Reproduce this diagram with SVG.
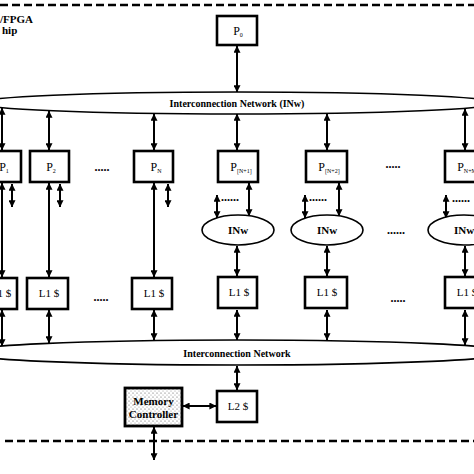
<svg xmlns="http://www.w3.org/2000/svg" width="474" height="474" viewBox="0 0 474 474">
<defs>
<marker id="ah" viewBox="0 0 10 10" refX="9.5" refY="5" markerWidth="7" markerHeight="7" markerUnits="userSpaceOnUse" orient="auto-start-reverse"><path d="M0,0 L10,5 L0,10 z" fill="#000"/></marker>
<pattern id="stip" width="4" height="4" patternUnits="userSpaceOnUse"><rect width="4" height="4" fill="#fff"/><circle cx="1" cy="1" r="0.6" fill="#555"/><circle cx="3" cy="3" r="0.5" fill="#888"/></pattern>
</defs>
<style>
.box{fill:#fff;stroke:#000;stroke-width:2.6}
.ell{fill:#fff;stroke:#000;stroke-width:1.6}
.arr{stroke:#000;stroke-width:2;fill:none;marker-start:url(#ah);marker-end:url(#ah)}
.dash{stroke:#000;stroke-width:2.4;stroke-dasharray:8 4;fill:none}
.t{font-family:"Liberation Serif","Times New Roman",serif;fill:#000}
.b{font-weight:bold}
.p{font-size:12px;text-anchor:middle}
.sub{font-size:6px}
.l{font-size:11px;text-anchor:middle}
.dots{font-family:"Liberation Serif",serif;font-size:12px;font-weight:bold;fill:#000;text-anchor:middle}
</style>
<rect width="474" height="474" fill="#fff"/>
<line class="dash" x1="0" y1="5" x2="474" y2="5"/>
<line class="dash" x1="5" y1="441" x2="474" y2="441"/>
<text class="t b" x="0" y="23" font-size="11">/FPGA</text>
<text class="t b" x="2" y="34" font-size="11">hip</text>

<g id="connectors">
<line class="arr" x1="237" y1="46" x2="237" y2="92"/>
<line class="arr" x1="2" y1="108" x2="2" y2="150"/>
<line class="arr" x1="49" y1="111" x2="49" y2="150"/>
<line class="arr" x1="154" y1="114" x2="154" y2="150"/>
<line class="arr" x1="237" y1="114" x2="237" y2="150"/>
<line class="arr" x1="327" y1="114" x2="327" y2="150"/>
<line class="arr" x1="465" y1="109" x2="465" y2="150"/>
<line class="arr" x1="2" y1="183" x2="2" y2="277"/>
<line class="arr" x1="12" y1="184" x2="12" y2="207"/>
<line class="arr" x1="49" y1="183" x2="49" y2="277"/>
<line class="arr" x1="60" y1="184" x2="60" y2="207"/>
<line class="arr" x1="154" y1="183" x2="154" y2="277"/>
<line class="arr" x1="168" y1="184" x2="168" y2="207"/>
<line class="arr" x1="217" y1="195" x2="217" y2="218"/>
<line class="arr" x1="249" y1="183" x2="249" y2="216"/>
<line class="arr" x1="305" y1="195" x2="305" y2="218"/>
<line class="arr" x1="339" y1="183" x2="339" y2="216"/>
<line class="arr" x1="446" y1="195" x2="446" y2="218"/>
<line class="arr" x1="237" y1="246" x2="237" y2="276"/>
<line class="arr" x1="327" y1="246" x2="327" y2="276"/>
<line class="arr" x1="465" y1="246" x2="465" y2="276"/>
<line class="arr" x1="2" y1="310" x2="2" y2="346"/>
<line class="arr" x1="49" y1="310" x2="49" y2="343"/>
<line class="arr" x1="154" y1="310" x2="154" y2="340"/>
<line class="arr" x1="237" y1="310" x2="237" y2="340"/>
<line class="arr" x1="327" y1="310" x2="327" y2="340"/>
<line class="arr" x1="465" y1="310" x2="465" y2="345"/>
<line class="arr" x1="237" y1="366" x2="237" y2="390"/>
<line class="arr" x1="183" y1="406" x2="216" y2="406"/>
<line class="arr" x1="154" y1="427" x2="154" y2="460"/>
</g>

<g id="P0"><rect class="box" x="217" y="16" width="40" height="29"/><text class="t p" x="238" y="35">P<tspan class="sub" dy="2">0</tspan></text></g>

<g id="INw-top"><ellipse class="ell" cx="237" cy="103" rx="260" ry="11"/><text class="t b" x="237" y="107" font-size="10" text-anchor="middle">Interconnection Network (INw)</text></g>

<g id="P1"><rect class="box" x="-18" y="151" width="39" height="31"/><text class="t p" x="4" y="171">P<tspan class="sub" dy="2">1</tspan></text></g>
<g id="P2"><rect class="box" x="30" y="151" width="39" height="31"/><text class="t p" x="51" y="171">P<tspan class="sub" dy="2">2</tspan></text></g>
<g id="PN"><rect class="box" x="134" y="151" width="39" height="31"/><text class="t p" x="156" y="171">P<tspan class="sub" dy="2">N</tspan></text></g>
<g id="PN1"><rect class="box" x="218" y="151" width="40" height="31"/><text class="t p" x="241" y="171">P<tspan class="sub" dy="2">[N+1]</tspan></text></g>
<g id="PN2"><rect class="box" x="306" y="151" width="41" height="31"/><text class="t p" x="329" y="171">P<tspan class="sub" dy="2">[N+2]</tspan></text></g>
<g id="PNM"><rect class="box" x="445" y="151" width="42" height="31"/><text class="t p" x="467" y="171">P<tspan class="sub" dy="2">N+M</tspan></text></g>

<text class="dots" x="102" y="171">.....</text>
<text class="dots" x="393" y="168">.....</text>
<text class="dots" x="230" y="201">......</text>
<text class="dots" x="318" y="201">......</text>
<text class="dots" x="461" y="202">......</text>
<text class="dots" x="396" y="234">......</text>
<text class="dots" x="101" y="301">.....</text>
<text class="dots" x="398" y="302">.....</text>

<g id="INw1"><ellipse class="ell" cx="238" cy="230" rx="36" ry="15"/><text class="t b" x="238" y="234" font-size="11" text-anchor="middle">INw</text></g>
<g id="INw2"><ellipse class="ell" cx="327" cy="230" rx="36" ry="15"/><text class="t b" x="327" y="234" font-size="11" text-anchor="middle">INw</text></g>
<g id="INw3"><ellipse class="ell" cx="464" cy="230" rx="36" ry="15"/><text class="t b" x="464" y="234" font-size="11" text-anchor="middle">INw</text></g>

<g id="L1a"><rect class="box" x="-20" y="278" width="37" height="31"/><text class="t l" x="1" y="297">L1 $</text></g>
<g id="L1b"><rect class="box" x="27" y="278" width="41" height="31"/><text class="t l" x="49" y="297">L1 $</text></g>
<g id="L1c"><rect class="box" x="132" y="278" width="40" height="31"/><text class="t l" x="154" y="297">L1 $</text></g>
<g id="L1d"><rect class="box" x="218" y="277" width="39" height="31"/><text class="t l" x="239" y="296">L1 $</text></g>
<g id="L1e"><rect class="box" x="305" y="277" width="42" height="31"/><text class="t l" x="327" y="296">L1 $</text></g>
<g id="L1f"><rect class="box" x="445" y="277" width="42" height="31"/><text class="t l" x="467" y="296">L1 $</text></g>

<g id="IN-bottom"><ellipse class="ell" cx="237" cy="352.5" rx="275" ry="12.5"/><text class="t b" x="237" y="357" font-size="10" text-anchor="middle">Interconnection Network</text></g>

<g id="L2"><rect class="box" x="217" y="391" width="40" height="31"/><text class="t l" x="238" y="410">L2 $</text></g>
<g id="MC"><rect x="125" y="388" width="57" height="38" fill="url(#stip)" stroke="#000" stroke-width="2.8"/><text class="t b" x="153.5" y="405" font-size="11" text-anchor="middle">Memory</text><text class="t b" x="153.5" y="418" font-size="11" text-anchor="middle">Controller</text></g>
</svg>
